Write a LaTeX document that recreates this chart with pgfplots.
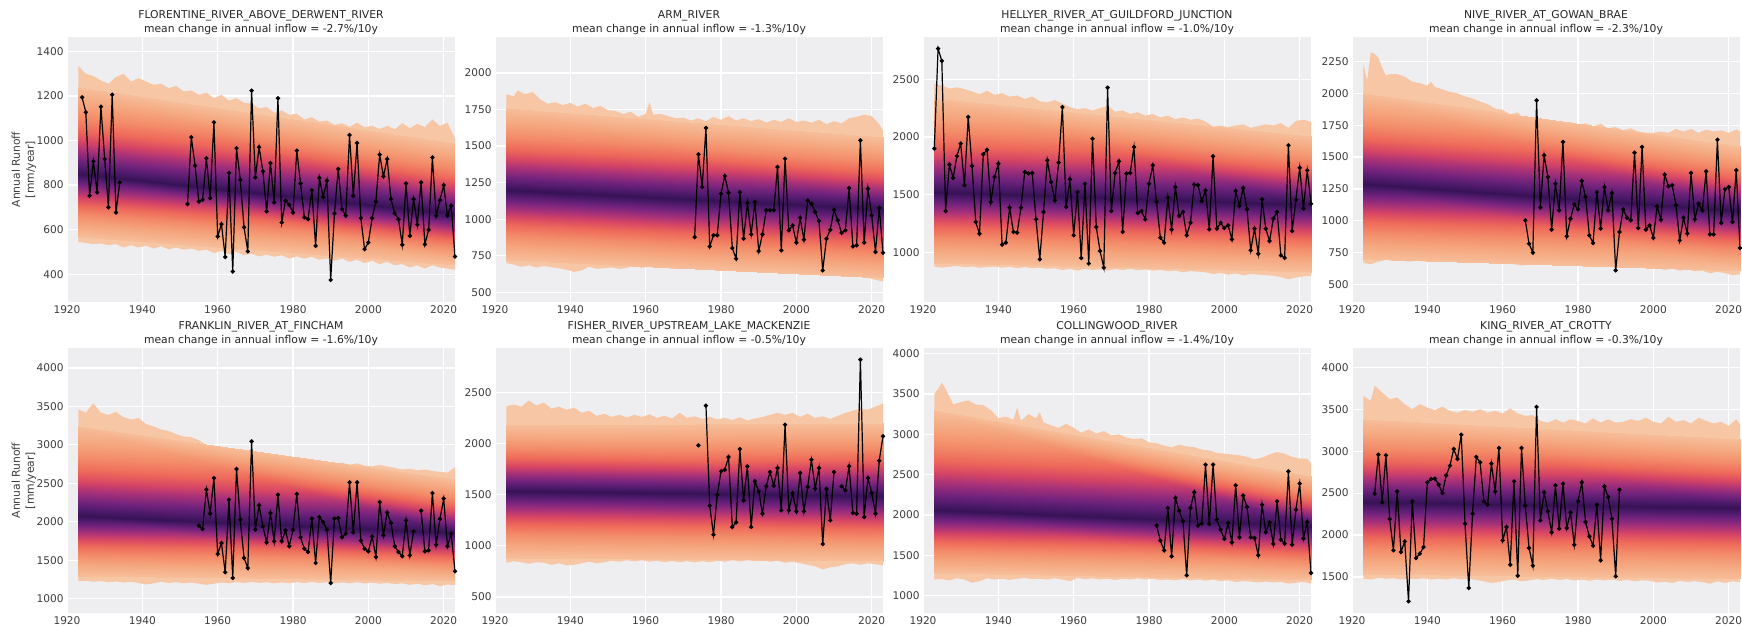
\documentclass[border=0pt]{standalone}
\usepackage{fontspec}
\setmainfont{DejaVu Sans}
\usepackage{pgfplots}
\pgfplotsset{compat=1.18}
\definecolor{bgc}{RGB}{238,238,241}
\definecolor{tickc}{RGB}{60,60,60}
\definecolor{rim}{RGB}{247,198,165}
\pgfplotsset{
  colormap={fan}{rgb255(0cm)=(55,18,85) rgb255(0.6cm)=(75,25,105) rgb255(1.6cm)=(115,35,125)
    rgb255(2.8cm)=(170,50,120) rgb255(3.8cm)=(215,70,100) rgb255(5cm)=(238,105,90)
    rgb255(6.5cm)=(243,140,105) rgb255(8.2cm)=(245,168,128) rgb255(10cm)=(246,190,154)},
  fanax/.style={
    width=194pt, height=132.5pt, scale only axis, anchor=south west,
    xmin=1920, xmax=2023, xtick={1920,1940,...,2020},
    axis background/.style={fill=bgc},
    grid=major, grid style={white, line width=0.6pt},
    axis line style={draw=none}, major tick length=0pt,
    tick label style={font=\fontsize{5.3}{6.4}\selectfont, text=tickc, inner sep=1.5pt},
    /pgf/number format/assume math mode=true, /pgf/number format/1000 sep={},
    title style={font=\fontsize{5.4}{7}\selectfont, text=black!85, align=center, yshift=-8.2pt},
    ylabel style={font=\fontsize{5.4}{7}\selectfont, text=tickc, align=center,
      at={(axis description cs:-0.111,0.5)}, anchor=center},
    colormap name=fan, point meta min=0, point meta max=1,
    unbounded coords=jump,
  },
  obs/.style={black, line width=0.6pt, mark=*, mark size=0.75pt, mark options={fill=black}},
  band/.style={surf, shader=interp, point meta=explicit, mesh/rows=3, mesh/cols=2},
}
\begin{document}
\begin{tikzpicture}
\useasboundingbox (0,0) rectangle (871pt,313.5pt);

% ---------------- row 1 ----------------
\begin{axis}[fanax, at={(33.5pt,162.5pt)}, ymin=275, ymax=1465, ytick={400,600,...,1400},
  ylabel={Annual Runoff\\{}[mm/year]},
  title={FLORENTINE\_RIVER\_ABOVE\_DERWENT\_RIVER\\mean change in annual inflow = -2.7\%/10y}]
\addplot[fill=rim, draw=none] coordinates {
(1923,1335)(1925,1300)(1927,1290)(1929,1270)(1931,1255)(1933,1285)(1935,1300)(1937,1265)(1939,1280)
(1941,1265)(1943,1250)(1945,1255)(1947,1235)(1949,1245)(1951,1220)(1953,1225)(1955,1205)(1957,1215)
(1959,1190)(1961,1205)(1963,1180)(1965,1190)(1967,1170)(1969,1165)(1971,1145)(1973,1150)(1975,1125)
(1977,1135)(1979,1115)(1981,1120)(1983,1095)(1985,1105)(1987,1085)(1989,1090)(1991,1070)(1993,1078)
(1995,1062)(1997,1080)(1999,1060)(2001,1066)(2003,1052)(2005,1066)(2007,1050)(2009,1078)(2011,1055)
(2013,1075)(2015,1060)(2017,1095)(2019,1065)(2021,1080)(2023,1010)
(2023,420)(2021,425)(2019,430)(2017,440)(2015,425)(2013,440)(2011,430)(2009,445)(2007,440)(2005,455)
(2003,445)(2001,460)(1999,450)(1997,465)(1995,455)(1993,470)(1991,460)(1989,470)(1987,465)(1985,478)
(1983,470)(1981,480)(1979,470)(1977,485)(1975,478)(1973,488)(1971,480)(1969,492)(1967,485)(1965,500)
(1963,490)(1961,505)(1959,495)(1957,510)(1955,505)(1953,515)(1951,510)(1949,520)(1947,512)(1945,525)
(1943,515)(1941,528)(1939,520)(1937,530)(1935,520)(1933,535)(1931,530)(1929,538)(1927,535)(1925,540)
(1923,545)} -- cycle;
\addplot[band] table[meta=m] {
x y m
1923 565 1
2023 440 1
1923 850 0
2023 670 0
1923 1240 1
2023 990 1
};
\addplot[obs] coordinates {
(1924,1194)(1925,1127)(1926,752)(1927,907)(1928,767)(1929,1152)(1930,917)(1931,700)(1932,1206)
(1933,677)(1934,812)(1935,nan)(1952,715)(1953,1015)(1954,887)(1955,726)(1956,734)(1957,920)(1958,741)
(1959,1082)(1960,569)(1961,625)(1962,477)(1963,854)(1964,412)(1965,966)(1966,824)(1967,610)(1968,502)
(1969,1224)(1970,834)(1971,970)(1972,862)(1973,682)(1974,899)(1975,722)(1976,1190)(1977,632)(1978,730)
(1979,712)(1980,677)(1981,955)(1982,807)(1983,655)(1984,647)(1985,777)(1986,527)(1987,832)(1988,747)
(1989,820)(1990,374)(1991,672)(1992,872)(1993,692)(1994,662)(1995,1025)(1996,752)(1997,989)(1998,652)
(1999,512)(2000,542)(2001,652)(2002,726)(2003,937)(2004,839)(2005,917)(2006,737)(2007,674)(2008,647)
(2009,532)(2010,807)(2011,572)(2012,737)(2013,622)(2014,812)(2015,534)(2016,599)(2017,924)(2018,662)
(2019,732)(2020,800)(2021,662)(2022,707)(2023,479)};
\end{axis}

\begin{axis}[fanax, at={(247.5pt,162.5pt)}, ymin=434, ymax=2246, ytick={500,750,...,2000},
  title={ARM\_RIVER\\mean change in annual inflow = -1.3\%/10y}]
\addplot[fill=rim, draw=none] coordinates {
(1923,1855)(1925,1840)(1926,1880)(1928,1855)(1930,1870)(1932,1820)(1934,1790)(1936,1800)(1938,1780)
(1940,1795)(1942,1770)(1944,1790)(1946,1760)(1948,1775)(1950,1745)(1952,1740)(1954,1720)(1956,1735)
(1958,1700)(1960,1720)(1961,1800)(1962,1715)(1964,1720)(1966,1705)(1968,1690)(1970,1695)(1972,1675)
(1974,1690)(1976,1670)(1978,1700)(1980,1680)(1982,1705)(1984,1675)(1986,1690)(1988,1670)(1990,1685)
(1992,1660)(1994,1680)(1996,1665)(1998,1690)(2000,1665)(2002,1675)(2004,1660)(2006,1680)(2008,1650)
(2010,1670)(2012,1655)(2014,1690)(2016,1700)(2018,1715)(2020,1705)(2022,1650)(2023,1605)
(2023,575)(2021,585)(2019,600)(2017,615)(2015,625)(2013,635)(2011,640)(2009,650)(2007,640)(2005,655)
(2003,648)(2001,660)(1999,652)(1997,665)(1995,655)(1993,665)(1991,652)(1989,662)(1987,650)(1985,665)
(1983,655)(1981,668)(1979,660)(1977,670)(1975,658)(1973,672)(1971,662)(1969,670)(1967,660)(1965,672)
(1963,665)(1961,675)(1959,668)(1957,680)(1955,668)(1953,660)(1951,670)(1949,665)(1947,660)(1945,675)
(1943,650)(1941,640)(1939,655)(1937,665)(1935,672)(1933,680)(1931,670)(1929,685)(1927,675)(1925,690)
(1923,700)} -- cycle;
\addplot[band] table[meta=m] {
x y m
1923 720 1
2023 600 1
1923 1197 0
2023 1072 0
1923 1760 1
2023 1560 1
};
\addplot[obs] coordinates {
(1973,878)(1974,1444)(1975,1220)(1976,1624)(1977,814)(1978,890)(1979,890)(1980,1175)(1981,1296)
(1982,1181)(1983,803)(1984,730)(1985,1186)(1986,867)(1987,1111)(1988,897)(1989,1118)(1990,782)
(1991,897)(1992,1061)(1993,1061)(1994,1061)(1995,1357)(1996,787)(1997,1414)(1998,924)(1999,958)
(2000,840)(2001,1010)(2002,860)(2003,1129)(2004,1106)(2005,1049)(2006,988)(2007,650)(2008,867)
(2009,928)(2010,1065)(2011,992)(2012,906)(2013,924)(2014,1213)(2015,814)(2016,821)(2017,1539)
(2018,840)(2019,1209)(2020,1026)(2021,776)(2022,1079)(2023,771)};
\end{axis}

\begin{axis}[fanax, at={(461.5pt,162.5pt)}, ymin=573, ymax=2866, ytick={1000,1500,...,2500},
  title={HELLYER\_RIVER\_AT\_GUILDFORD\_JUNCTION\\mean change in annual inflow = -1.0\%/10y}]
\addplot[fill=rim, draw=none] coordinates {
(1923,2460)(1925,2445)(1927,2420)(1929,2430)(1931,2415)(1933,2395)(1935,2370)(1937,2400)(1939,2365)
(1941,2380)(1943,2350)(1945,2360)(1947,2330)(1949,2350)(1951,2310)(1953,2300)(1955,2320)(1957,2290)
(1959,2260)(1961,2240)(1963,2250)(1965,2230)(1967,2250)(1969,2270)(1971,2220)(1973,2230)(1975,2200)
(1977,2215)(1979,2185)(1981,2200)(1983,2170)(1985,2185)(1987,2155)(1989,2170)(1991,2150)(1993,2160)
(1995,2135)(1997,2090)(1999,2100)(2001,2085)(2003,2100)(2005,2110)(2007,2080)(2009,2095)(2011,2110)
(2013,2100)(2015,2120)(2017,2080)(2019,2140)(2021,2150)(2023,2130)
(2023,800)(2021,795)(2019,785)(2017,770)(2015,790)(2013,800)(2011,805)(2009,810)(2007,815)(2005,805)
(2003,820)(2001,810)(1999,825)(1997,815)(1995,830)(1993,835)(1991,840)(1989,830)(1987,845)(1985,840)
(1983,850)(1981,845)(1979,855)(1977,848)(1975,860)(1973,850)(1971,858)(1969,845)(1967,855)(1965,850)
(1963,860)(1961,845)(1959,860)(1957,850)(1955,865)(1953,860)(1951,870)(1949,865)(1947,875)(1945,865)
(1943,878)(1941,870)(1939,880)(1937,875)(1935,870)(1933,880)(1931,875)(1929,885)(1927,878)(1925,870)
(1923,880)} -- cycle;
\addplot[band] table[meta=m] {
x y m
1923 910 1
2023 830 1
1923 1525 0
2023 1410 0
1923 2340 1
2023 2010 1
};
\addplot[obs] coordinates {
(1923,1900)(1924,2765)(1925,2659)(1926,1360)(1927,1761)(1928,1646)(1929,1836)(1930,1943)(1931,1583)
(1932,2174)(1933,1750)(1934,1265)(1935,1164)(1936,1851)(1937,1891)(1938,1438)(1939,1655)(1940,1770)
(1941,1069)(1942,1086)(1943,1389)(1944,1179)(1945,1173)(1946,1389)(1947,1698)(1948,1684)(1949,1689)
(1950,1288)(1951,942)(1952,1352)(1953,1799)(1954,1611)(1955,1453)(1956,1779)(1957,2260)(1958,1395)
(1959,1634)(1960,1150)(1961,1525)(1962,954)(1963,1597)(1964,905)(1965,1986)(1966,1222)(1967,1014)
(1968,870)(1969,2428)(1970,1360)(1971,1689)(1972,1790)(1973,1179)(1974,1684)(1975,1689)(1976,1914)
(1977,1343)(1978,1360)(1979,1288)(1980,1597)(1981,1756)(1982,1438)(1983,1130)(1984,1086)(1985,1476)
(1986,1199)(1987,1568)(1988,1317)(1989,1352)(1990,1150)(1991,1259)(1992,1591)(1993,1583)(1994,1447)
(1995,1539)(1996,1202)(1997,1834)(1998,1207)(1999,1257)(2000,1213)(2001,1236)(2002,1115)(2003,1534)
(2004,1404)(2005,1560)(2006,1375)(2007,1020)(2008,1207)(2009,991)(2010,1461)(2011,1207)(2012,1101)
(2013,1294)(2014,1352)(2015,977)(2016,954)(2017,1929)(2018,1187)(2019,1458)(2020,1735)(2021,1381)
(2022,1712)(2023,1424)};
\end{axis}

\begin{axis}[fanax, at={(676pt,162.5pt)}, ymin=364, ymax=2441, ytick={500,750,...,2250},
  title={NIVE\_RIVER\_AT\_GOWAN\_BRAE\\mean change in annual inflow = -2.3\%/10y}]
\addplot[fill=rim, draw=none] coordinates {
(1923,2230)(1924,2100)(1925,2320)(1926,2310)(1927,2280)(1928,2200)(1929,2140)(1930,2150)(1932,2150)
(1934,2130)(1936,2090)(1938,2080)(1940,2060)(1941,2090)(1942,2050)(1944,2030)(1946,2010)(1948,2000)
(1950,1975)(1952,1960)(1954,1935)(1956,1915)(1958,1880)(1960,1870)(1962,1835)(1964,1850)(1966,1790)
(1968,1780)(1970,1770)(1972,1760)(1974,1770)(1976,1760)(1978,1775)(1980,1750)(1982,1765)(1984,1740)
(1986,1760)(1988,1725)(1990,1735)(1992,1710)(1994,1725)(1996,1700)(1998,1690)(2000,1690)(2002,1700)
(2004,1690)(2006,1720)(2008,1700)(2010,1720)(2012,1690)(2014,1715)(2016,1700)(2018,1710)(2020,1690)
(2022,1715)(2023,1700)
(2023,580)(2021,575)(2019,590)(2017,600)(2015,590)(2013,610)(2011,605)(2009,620)(2007,610)(2005,625)
(2003,615)(2001,630)(1999,622)(1997,640)(1995,630)(1993,650)(1991,640)(1989,660)(1987,650)(1985,665)
(1983,655)(1981,670)(1979,660)(1977,665)(1975,650)(1973,660)(1971,668)(1969,675)(1967,660)(1965,650)
(1963,660)(1961,665)(1959,672)(1957,680)(1955,675)(1953,690)(1951,685)(1949,692)(1947,680)(1945,690)
(1943,680)(1941,688)(1939,682)(1937,690)(1935,680)(1933,690)(1931,685)(1929,695)(1927,680)(1925,660)
(1923,670)} -- cycle;
\addplot[band] table[meta=m] {
x y m
1923 700 1
2023 610 1
1923 1290 0
2023 1075 0
1923 2000 1
2023 1590 1
};
\addplot[obs] coordinates {
(1966,1004)(1967,821)(1968,751)(1969,1944)(1970,1103)(1971,1513)(1972,1344)(1973,931)(1974,1291)
(1975,1082)(1976,1618)(1977,879)(1978,1017)(1979,1129)(1980,1090)(1981,1312)(1982,1187)(1983,887)
(1984,826)(1985,1226)(1986,939)(1987,1265)(1988,1082)(1989,1218)(1990,612)(1991,913)(1992,1090)
(1993,1025)(1994,1004)(1995,1534)(1996,944)(1997,1579)(1998,931)(1999,965)(2000,866)(2001,1114)
(2002,1009)(2003,1362)(2004,1271)(2005,1278)(2006,1122)(2007,847)(2008,1025)(2009,900)(2010,1375)
(2011,1012)(2012,1135)(2013,1082)(2014,1388)(2015,894)(2016,894)(2017,1636)(2018,983)(2019,1247)
(2020,1265)(2021,991)(2022,1396)(2023,787)};
\end{axis}

% ---------------- row 2 ----------------
\begin{axis}[fanax, at={(33.5pt,7pt)}, ymin=814, ymax=4260, ytick={1000,1500,...,4000},
  ylabel={Annual Runoff\\{}[mm/year]},
  title={FRANKLIN\_RIVER\_AT\_FINCHAM\\mean change in annual inflow = -1.6\%/10y}]
\addplot[fill=rim, draw=none] coordinates {
(1923,3460)(1925,3420)(1927,3540)(1929,3420)(1931,3390)(1933,3430)(1935,3360)(1937,3330)(1939,3350)
(1941,3270)(1943,3240)(1945,3200)(1947,3180)(1949,3140)(1951,3110)(1953,3100)(1955,3060)(1957,3000)
(1959,2960)(1961,2950)(1963,2900)(1965,2920)(1967,2880)(1969,2860)(1971,2870)(1973,2830)(1975,2850)
(1977,2800)(1979,2830)(1981,2780)(1983,2790)(1985,2770)(1987,2800)(1989,2760)(1991,2750)(1993,2770)
(1995,2740)(1997,2760)(1999,2730)(2001,2720)(2003,2740)(2005,2720)(2007,2700)(2009,2680)(2011,2690)
(2013,2670)(2015,2680)(2017,2660)(2019,2650)(2021,2640)(2023,2710)
(2023,1175)(2021,1185)(2019,1165)(2017,1190)(2015,1175)(2013,1195)(2011,1180)(2009,1200)(2007,1190)
(2005,1205)(2003,1195)(2001,1210)(1999,1198)(1997,1215)(1995,1200)(1993,1212)(1991,1200)(1989,1215)
(1987,1205)(1985,1218)(1983,1205)(1981,1215)(1979,1200)(1977,1212)(1975,1200)(1973,1215)(1971,1205)
(1969,1218)(1967,1205)(1965,1215)(1963,1200)(1961,1210)(1959,1195)(1957,1180)(1955,1195)(1953,1210)
(1951,1200)(1949,1215)(1947,1205)(1945,1220)(1943,1200)(1941,1185)(1939,1205)(1937,1220)(1935,1210)
(1933,1225)(1931,1215)(1929,1230)(1927,1220)(1925,1235)(1923,1225)} -- cycle;
\addplot[band] table[meta=m] {
x y m
1923 1290 1
2023 1230 1
1923 2071 0
2023 1854 0
1923 3250 1
2023 2560 1
};
\addplot[obs] coordinates {
(1955,1950)(1956,1906)(1957,2418)(1958,2106)(1959,2569)(1960,1581)(1961,1724)(1962,1343)(1963,2288)
(1964,1269)(1965,2686)(1966,2028)(1967,1529)(1968,1399)(1969,3046)(1970,1898)(1971,2214)(1972,1941)
(1973,1733)(1974,2114)(1975,1746)(1976,2353)(1977,1746)(1978,1889)(1979,1681)(1980,1898)(1981,2361)
(1982,1798)(1983,1650)(1984,1607)(1985,2041)(1986,1464)(1987,2062)(1988,1997)(1989,1898)(1990,1204)
(1991,2041)(1992,2049)(1993,1798)(1994,1846)(1995,2513)(1996,1863)(1997,2513)(1998,1755)(1999,1650)
(2000,1616)(2001,1811)(2002,1542)(2003,2257)(2004,1824)(2005,2123)(2006,1984)(2007,1681)(2008,1607)
(2009,1551)(2010,2019)(2011,1564)(2012,1876)(2013,nan)(2014,2145)(2015,1616)(2016,1629)(2017,2374)
(2018,1702)(2019,2036)(2020,2301)(2021,1681)(2022,1846)(2023,1356)};
\end{axis}

\begin{axis}[fanax, at={(247.5pt,7pt)}, ymin=344, ymax=2933, ytick={500,1000,...,2500},
  title={FISHER\_RIVER\_UPSTREAM\_LAKE\_MACKENZIE\\mean change in annual inflow = -0.5\%/10y}]
\addplot[fill=rim, draw=none] coordinates {
(1923,2365)(1925,2380)(1927,2360)(1929,2420)(1931,2370)(1933,2400)(1935,2340)(1937,2360)(1939,2330)
(1941,2350)(1943,2300)(1945,2320)(1947,2270)(1949,2290)(1951,2260)(1953,2280)(1955,2255)(1957,2280)
(1959,2260)(1961,2285)(1963,2250)(1965,2270)(1967,2245)(1969,2300)(1971,2250)(1973,2265)(1975,2240)
(1977,2260)(1979,2235)(1981,2250)(1983,2230)(1985,2255)(1987,2225)(1989,2245)(1991,2260)(1993,2280)
(1995,2300)(1997,2280)(1999,2300)(2001,2260)(2003,2290)(2005,2250)(2007,2265)(2009,2240)(2011,2270)
(2013,2300)(2015,2320)(2017,2340)(2019,2330)(2021,2360)(2023,2390)
(2023,810)(2021,820)(2019,830)(2017,815)(2015,830)(2013,820)(2011,800)(2009,790)(2007,770)(2005,800)
(2003,815)(2001,830)(1999,845)(1997,835)(1995,855)(1993,845)(1991,860)(1989,850)(1987,860)(1985,848)
(1983,860)(1981,845)(1979,855)(1977,840)(1975,850)(1973,838)(1971,850)(1969,840)(1967,852)(1965,840)
(1963,855)(1961,845)(1959,860)(1957,848)(1955,860)(1953,845)(1951,855)(1949,840)(1947,830)(1945,845)
(1943,830)(1941,815)(1939,810)(1937,830)(1935,815)(1933,835)(1931,840)(1929,825)(1927,840)(1925,850)
(1923,835)} -- cycle;
\addplot[band] table[meta=m] {
x y m
1923 880 1
2023 850 1
1923 1533 0
2023 1484 0
1923 2180 1
2023 2200 1
};
\addplot[obs] coordinates {
(1974,1982)(1975,nan)(1976,2370)(1977,1393)(1978,1109)(1979,1500)(1980,1728)(1981,1744)(1982,1868)
(1983,1184)(1984,1230)(1985,1946)(1986,1441)(1987,1777)(1988,1184)(1989,1630)(1990,1533)(1991,1314)
(1992,1582)(1993,1722)(1994,1588)(1995,1761)(1996,1347)(1997,2184)(1998,1347)(1999,1516)(2000,1337)
(2001,1712)(2002,1337)(2003,1575)(2004,1842)(2005,1559)(2006,1761)(2007,1018)(2008,1555)(2009,1249)
(2010,1722)(2011,nan)(2012,1582)(2013,1542)(2014,1777)(2015,1321)(2016,1314)(2017,2819)(2018,1282)
(2019,1663)(2020,1516)(2021,1314)(2022,1832)(2023,2070)};
\end{axis}

\begin{axis}[fanax, at={(461.5pt,7pt)}, ymin=785, ymax=4070, ytick={1000,1500,...,4000},
  title={COLLINGWOOD\_RIVER\\mean change in annual inflow = -1.4\%/10y}]
\addplot[fill=rim, draw=none] coordinates {
(1923,3500)(1924,3560)(1925,3640)(1926,3560)(1927,3470)(1928,3370)(1930,3400)(1932,3420)(1934,3370)
(1936,3360)(1938,3300)(1940,3200)(1942,3220)(1944,3180)(1945,3330)(1946,3170)(1948,3250)(1950,3200)
(1951,3270)(1952,3150)(1954,3110)(1956,3080)(1958,3130)(1960,3080)(1962,3020)(1964,3060)(1966,3010)
(1968,3040)(1970,2990)(1972,3000)(1974,2960)(1976,2940)(1978,2950)(1980,2900)(1982,2890)(1984,2860)
(1986,2840)(1988,2870)(1990,2850)(1992,2840)(1994,2810)(1996,2800)(1998,2770)(2000,2760)(2002,2750)
(2004,2740)(2006,2720)(2008,2690)(2010,2710)(2012,2750)(2014,2780)(2016,2760)(2018,2720)(2020,2700)
(2022,2700)(2023,2640)
(2023,1150)(2021,1170)(2019,1160)(2017,1150)(2015,1170)(2013,1165)(2011,1175)(2009,1165)(2007,1175)
(2005,1180)(2003,1170)(2001,1190)(1999,1180)(1997,1200)(1995,1185)(1993,1200)(1991,1190)(1989,1205)
(1987,1190)(1985,1200)(1983,1195)(1981,1210)(1979,1200)(1977,1215)(1975,1200)(1973,1210)(1971,1195)
(1969,1210)(1967,1200)(1965,1215)(1963,1205)(1961,1220)(1959,1180)(1957,1200)(1955,1215)(1953,1200)
(1951,1210)(1949,1205)(1947,1220)(1945,1210)(1943,1195)(1941,1210)(1939,1200)(1937,1215)(1935,1180)
(1933,1160)(1931,1200)(1929,1215)(1927,1190)(1925,1205)(1923,1200)} -- cycle;
\addplot[band] table[meta=m] {
x y m
1923 1280 1
2023 1200 1
1923 2066 0
2023 1860 0
1923 3300 1
2023 2480 1
};
\addplot[obs] coordinates {
(1982,1872)(1983,1682)(1984,1562)(1985,2087)(1986,1488)(1987,2211)(1988,2054)(1989,1922)(1990,1252)
(1991,2087)(1992,2281)(1993,1868)(1994,1893)(1995,2624)(1996,1889)(1997,2624)(1998,1942)(1999,1818)
(2000,1703)(2001,1901)(2002,1661)(2003,2368)(2004,1723)(2005,2240)(2006,2099)(2007,1723)(2008,1715)
(2009,1500)(2010,2128)(2011,1785)(2012,1909)(2013,1641)(2014,2170)(2015,1694)(2016,1645)(2017,2541)
(2018,1632)(2019,2066)(2020,2389)(2021,1707)(2022,1913)(2023,1281)};
\end{axis}

\begin{axis}[fanax, at={(676pt,7pt)}, ymin=1071, ymax=4230, ytick={1500,2000,...,4000},
  title={KING\_RIVER\_AT\_CROTTY\\mean change in annual inflow = -0.3\%/10y}]
\addplot[fill=rim, draw=none] coordinates {
(1923,3660)(1925,3600)(1926,3780)(1928,3700)(1930,3620)(1932,3640)(1934,3560)(1936,3500)(1938,3560)
(1940,3520)(1942,3490)(1944,3530)(1946,3480)(1948,3460)(1950,3490)(1952,3470)(1954,3500)(1956,3460)
(1958,3480)(1960,3450)(1962,3510)(1964,3450)(1966,3420)(1968,3430)(1970,3360)(1972,3340)(1974,3380)
(1976,3340)(1978,3380)(1980,3360)(1982,3330)(1984,3390)(1986,3340)(1988,3380)(1990,3340)(1992,3350)
(1994,3380)(1996,3360)(1998,3400)(2000,3350)(2002,3330)(2004,3410)(2006,3350)(2008,3370)(2010,3330)
(2012,3400)(2014,3360)(2016,3330)(2018,3350)(2020,3300)(2022,3380)(2023,3320)
(2023,1440)(2021,1450)(2019,1430)(2017,1450)(2015,1420)(2013,1440)(2011,1450)(2009,1440)(2007,1455)
(2005,1430)(2003,1445)(2001,1435)(1999,1455)(1997,1460)(1995,1450)(1993,1465)(1991,1455)(1989,1470)
(1987,1460)(1985,1470)(1983,1455)(1981,1470)(1979,1460)(1977,1475)(1975,1465)(1973,1480)(1971,1465)
(1969,1475)(1967,1460)(1965,1450)(1963,1470)(1961,1460)(1959,1440)(1957,1430)(1955,1450)(1953,1465)
(1951,1480)(1949,1470)(1947,1485)(1945,1470)(1943,1480)(1941,1470)(1939,1485)(1937,1475)(1935,1480)
(1933,1470)(1931,1485)(1929,1480)(1927,1490)(1925,1470)(1923,1480)} -- cycle;
\addplot[band] table[meta=m] {
x y m
1923 1540 1
2023 1480 1
1923 2400 0
2023 2320 0
1923 3380 1
2023 3150 1
};
\addplot[obs] coordinates {
(1926,2493)(1927,2959)(1928,2390)(1929,2951)(1930,2191)(1931,1818)(1932,2521)(1933,1798)(1934,1925)
(1935,1210)(1936,2402)(1937,1726)(1938,1778)(1939,1857)(1940,2629)(1941,2668)(1942,2672)(1943,2601)
(1944,2501)(1945,2712)(1946,2827)(1947,3026)(1948,2907)(1949,3197)(1950,2136)(1951,1369)(1952,2255)
(1953,2931)(1954,2867)(1955,2402)(1956,2362)(1957,2851)(1958,2521)(1959,3038)(1960,1937)(1961,2096)
(1962,1647)(1963,2640)(1964,1516)(1965,3038)(1966,2350)(1967,1846)(1968,1635)(1969,3527)(1970,2176)
(1971,2509)(1972,2283)(1973,2032)(1974,2593)(1975,2076)(1976,2613)(1977,2084)(1978,2271)(1979,1885)
(1980,2402)(1981,2629)(1982,2156)(1983,1985)(1984,1873)(1985,2362)(1986,1698)(1987,2581)(1988,2454)
(1989,2195)(1990,1508)(1991,2541)};
\end{axis}
\end{tikzpicture}
\end{document}
